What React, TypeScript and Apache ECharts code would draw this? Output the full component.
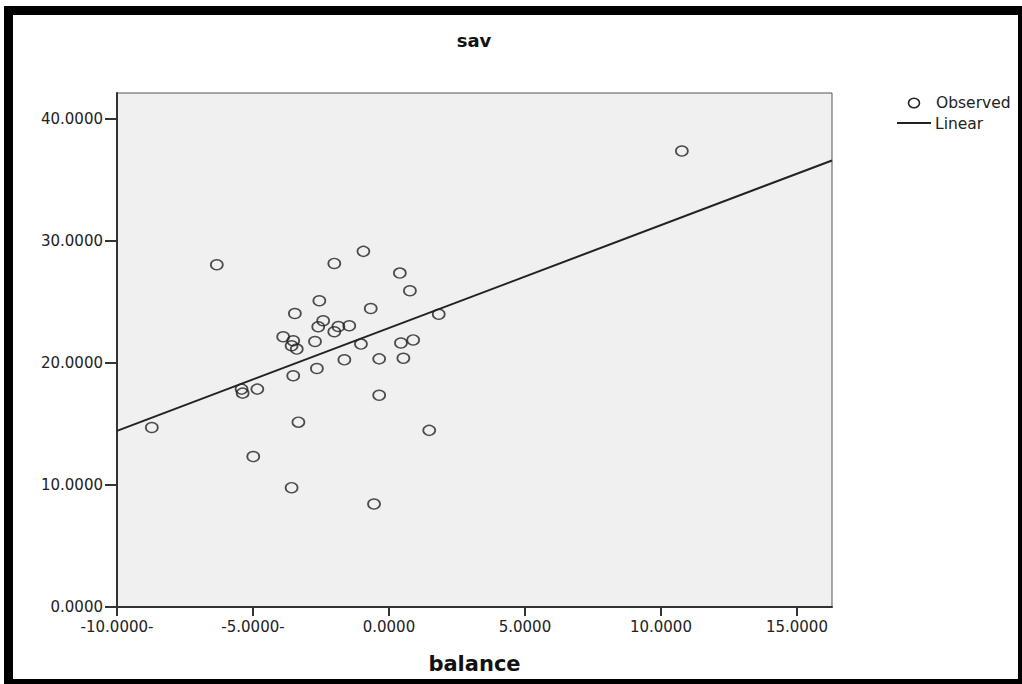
import React, { useEffect, useRef } from "react";
import * as echarts from "echarts";

const balance = [
  -8.72, -6.33, -5.42, -5.38, -4.84, -4.99, -3.33, -3.52, -3.89, -3.52,
  -3.58, -3.39, -3.46, -2.56, -2.72, -2.65, -2.42, -2.60, -2.01, -1.86,
  -1.46, -2.01, -0.94, -1.64, -1.03, -0.67, -0.36, -0.36, 0.40, 0.77,
  0.44, 0.89, 0.53, 1.83, 1.48, -3.58, -0.55, 10.77,
];
const sav = [
  14.71, 28.05, 17.86, 17.53, 17.86, 12.33, 15.15, 18.95, 22.15, 21.82,
  21.41, 21.14, 24.06, 25.10, 21.76, 19.55, 23.46, 22.97, 22.56, 22.99,
  23.05, 28.16, 29.15, 20.26, 21.55, 24.47, 20.34, 17.36, 27.37, 25.92,
  21.64, 21.89, 20.39, 24.00, 14.48, 9.78, 8.44, 37.38,
];

// Linear fit line endpoints
const fitX = [-10, 16.29];
const fitY = [14.44, 36.6];

const xTicks = [-10, -5, 0, 5, 10, 15];
const xTickLabels = ["-10.0000-", "-5.0000-", "0.0000", "5.0000", "10.0000", "15.0000"];
const yTicks = [0, 10, 20, 30, 40];
const yTickLabels = ["0.0000", "10.0000", "20.0000", "30.0000", "40.0000"];
const legendNames = ["Observed", "Linear"];

const FONT = "DejaVu Sans";

export default function App() {
  const ref = useRef<HTMLDivElement>(null);
  useEffect(() => {
    if (!ref.current) return;
    const chart = echarts.init(ref.current, null, { renderer: "svg" });
    const points = balance.map((b, i) => [b, sav[i]]);
    const line = fitX.map((x, i) => [x, fitY[i]]);
    chart.setOption({
      animation: false,
      backgroundColor: "#ffffff",
      grid: {
        left: 117,
        right: 190,
        top: 93,
        bottom: 77,
        show: true,
        backgroundColor: "#f0f0f0",
        borderColor: "#555",
        borderWidth: 1,
      },
      xAxis: {
        type: "value",
        min: -10,
        max: 16.29,
        interval: 5,
        splitLine: { show: false },
        axisLine: { show: true, onZero: false, lineStyle: { color: "#333", width: 2 } },
        axisTick: { show: true, customValues: xTicks, length: 9, lineStyle: { color: "#333", width: 2 } },
        axisLabel: {
          customValues: xTicks,
          formatter: (v: number) => xTickLabels[xTicks.indexOf(v)] ?? "",
          margin: 12,
          fontFamily: FONT,
          fontSize: 15,
          color: "#222",
        },
        name: "balance",
        nameLocation: "middle",
        nameGap: 46,
        nameTextStyle: { fontFamily: FONT, fontSize: 21, fontWeight: "bold", color: "#111" },
      },
      yAxis: {
        type: "value",
        min: 0,
        max: 42.13,
        interval: 10,
        splitLine: { show: false },
        axisLine: { show: true, onZero: false, lineStyle: { color: "#333", width: 2 } },
        axisTick: { show: true, customValues: yTicks, length: 12, lineStyle: { color: "#333", width: 2 } },
        axisLabel: {
          customValues: yTicks,
          formatter: (v: number) => yTickLabels[yTicks.indexOf(v)] ?? "",
          margin: 14,
          fontFamily: FONT,
          fontSize: 15,
          color: "#222",
        },
      },
      series: [
        {
          name: legendNames[0],
          type: "scatter",
          data: points,
          symbol: "circle",
          symbolSize: [12, 10],
          itemStyle: { color: "rgba(0,0,0,0)", borderColor: "#222", borderWidth: 1.6 },
          z: 3,
        },
        {
          name: legendNames[1],
          type: "line",
          data: line,
          symbol: "none",
          lineStyle: { color: "#222", width: 2 },
          z: 2,
        },
      ],
      graphic: [
        {
          type: "text",
          x: 474,
          y: 40,
          style: {
            text: "sav",
            align: "center",
            verticalAlign: "middle",
            font: `bold 18px "${FONT}"`,
            fill: "#111",
          },
        },
        // legend
        {
          type: "ellipse",
          shape: { cx: 914, cy: 103, rx: 5.5, ry: 4.8 },
          style: { fill: "none", stroke: "#222", lineWidth: 1.6 },
        },
        {
          type: "text",
          x: 936,
          y: 103,
          style: {
            text: legendNames[0],
            verticalAlign: "middle",
            font: `15.5px "${FONT}"`,
            fill: "#222",
          },
        },
        {
          type: "line",
          shape: { x1: 897, y1: 123, x2: 931, y2: 123 },
          style: { stroke: "#222", lineWidth: 2 },
        },
        {
          type: "text",
          x: 935,
          y: 124,
          style: {
            text: legendNames[1],
            verticalAlign: "middle",
            font: `15.5px "${FONT}"`,
            fill: "#222",
          },
        },
        // outer frame
        { type: "rect", shape: { x: 4, y: 6, width: 1018, height: 9 }, style: { fill: "#000" } },
        { type: "rect", shape: { x: 4, y: 6, width: 9, height: 678 }, style: { fill: "#000" } },
        { type: "rect", shape: { x: 1018, y: 6, width: 4, height: 678 }, style: { fill: "#000" } },
        { type: "rect", shape: { x: 4, y: 679, width: 1018, height: 5 }, style: { fill: "#000" } },
      ],
    });
    return () => chart.dispose();
  }, []);
  return (
    <div
      ref={ref}
      style={{ position: "absolute", left: 0, top: 0, width: 1022, height: 684 }}
    />
  );
}
